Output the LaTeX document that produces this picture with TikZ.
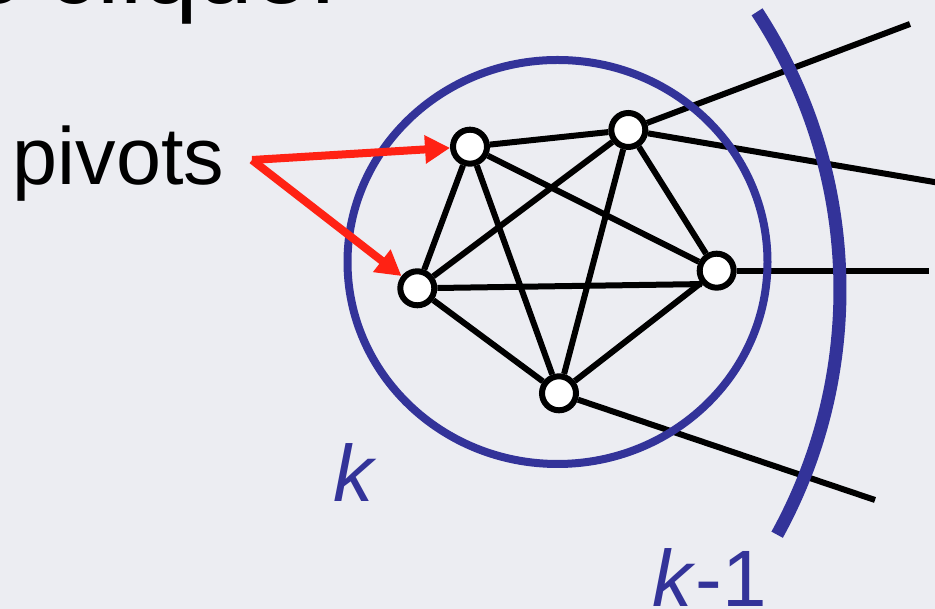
\documentclass[tikz,border=0pt]{standalone}
\usepackage{fontspec}
\setmainfont{Liberation Sans}
\usetikzlibrary{arrows.meta}
\definecolor{ringblue}{RGB}{51,51,153}
\definecolor{arrred}{RGB}{255,34,20}
\definecolor{bgtint}{RGB}{236,237,242}
\begin{document}
\begin{tikzpicture}[x=1pt,y=1pt,
  vtx/.style={circle,draw=black,fill=white,line width=6pt,minimum size=34pt,inner sep=0pt},
  link/.style={draw=black,line width=6pt},
  ring/.style={draw=ringblue,line width=8pt},
  bigarc/.style={draw=ringblue,line width=13pt},
  pointer/.style={draw=arrred,line width=8pt,-{Triangle[length=25pt,width=27pt]}},
  lab/.style={inner sep=0pt,anchor=base west}
]
\useasboundingbox (0,0) rectangle (935,609);
\clip (0,0) rectangle (935,609);
\fill[bgtint] (0,0) rectangle (935,609);

% title fragment
\node[lab,font=\fontsize{100}{110}\selectfont] (title) at (-30,605) {s clique.};

% vertices
\node[vtx] (A) at (470,462.3) {};
\node[vtx] (B) at (628.3,479) {};
\node[vtx] (C) at (716.7,338.3) {};
\node[vtx] (D) at (559,215.7) {};
\node[vtx] (E) at (417.3,320.7) {};

% outer ends
\coordinate (o1) at (910,585);
\coordinate (o2) at (940,426);
\coordinate (o3) at (929,338.3);
\coordinate (o4) at (875,109);

% clique edges
\foreach \u/\v in {A/B,A/C,A/D,A/E,B/C,B/D,B/E,C/D,D/E}
  \draw[link] (\u) -- (\v);
\draw[link] (E) -- (C.222);
\draw[link] (B) -- (o1);
\draw[link] (B) -- (o2);
\draw[link] (C) -- (o3);
\draw[link] (D) -- (o4);

% blue ring and arc
\draw[ring] (557.5,347) ellipse [x radius=210pt, y radius=202pt];
\draw[bigarc] (332,319) ++(33.2:508pt) arc[start angle=33.2, end angle=-28.8, radius=508pt];

% labels
\node[lab,font=\fontsize{81}{90}\selectfont] (piv) at (12.7,424) {pivots};
\node[lab,text=ringblue,font=\fontsize{80}{90}\selectfont\itshape] (klab) at (333,107) {k};
\node[lab,text=ringblue,font=\fontsize{80}{90}\selectfont] (k1lab) at (652,2) {\textit{k}-1};

% pointers
\coordinate (pv) at (252,449);
\draw[pointer] (pv) -- (A);
\draw[pointer] (pv) -- (E);
\end{tikzpicture}
\end{document}
